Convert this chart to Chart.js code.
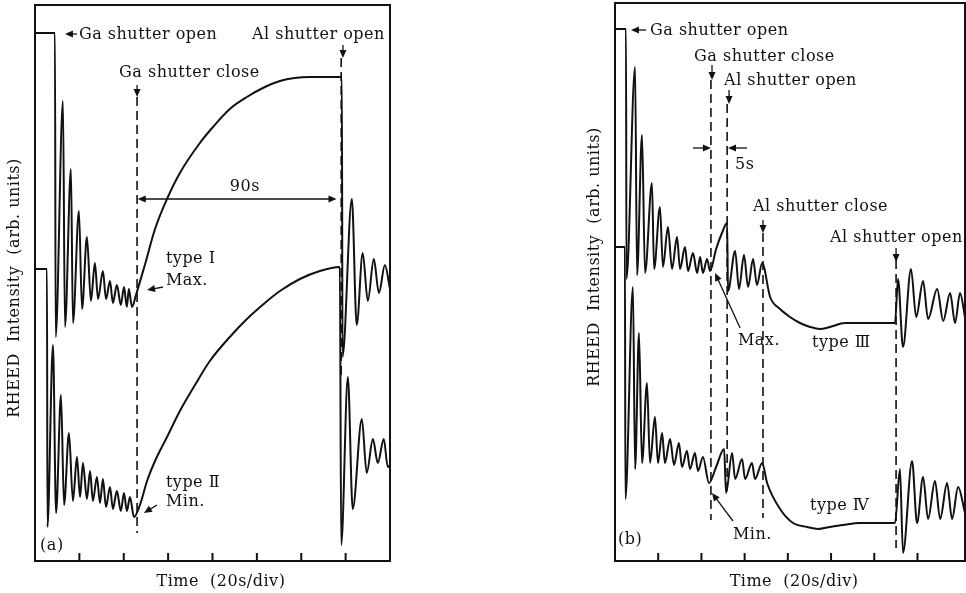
<!DOCTYPE html>
<html>
<head>
<meta charset="utf-8">
<script src="https://cdn.jsdelivr.net/npm/chart.js@4.4.1/dist/chart.umd.min.js"></script>
<style>
  html, body { margin: 0; padding: 0; background: #fff; }
  #wrap { position: relative; width: 966px; height: 593px; overflow: hidden; }
  canvas { position: absolute; top: 0; }
  #chartA { left: 0; }
  #chartB { left: 540px; }
</style>
</head>
<body>
<div id="wrap">
  <canvas id="chartA" width="420" height="593"></canvas>
  <canvas id="chartB" width="426" height="593"></canvas>
</div>
<script>
// RHEED intensity vs. time, time in s (20 s/div), intensity in arb. units

const tickTimes = [20, 40, 60, 80, 100, 120, 140];

// ---- (a) type I (upper) / type II (lower)
const aUpperT = [0, 9.0, 9.3, 12.6, 13.5, 16.2, 17.1, 19.8, 21.2, 23.4, 25.2, 27.0, 28.4, 30.6, 32.0, 33.8, 35.1, 36.9, 38.7, 40.1, 41.4, 42.3, 43.7, 45.5, 49.5, 54.1, 59.5, 65.3, 74.3, 80.2, 87.8, 95.5, 103.6, 110.4, 117.0, 124.0, 138.3, 138.6, 142.8, 145.0, 147.7, 150.0, 152.7, 155.0, 157.7, 160];
const aUpperI = [264, 264, 112, 230, 117, 196, 119, 175, 126, 162, 130, 149, 131, 145, 131, 140, 129, 138, 128, 137, 127, 136, 127, 133, 148, 166, 181, 194, 209, 217, 226, 232, 237, 240, 241.5, 242, 242, 102, 181, 118, 154, 130, 151, 134, 148, 136];
const aLowerT = [0, 5.4, 5.6, 8.1, 9.5, 11.7, 13.1, 15.3, 17.1, 18.9, 20.3, 21.6, 23.4, 24.8, 26.1, 27.9, 29.3, 30.6, 32.0, 33.8, 35.1, 36.9, 38.7, 40.1, 41.4, 42.8, 44.6, 47.3, 50.5, 54.1, 59.5, 65.3, 72.1, 78.8, 87.8, 95.5, 103.6, 110.4, 119.4, 128.4, 137.4, 138.0, 141.0, 143.2, 147.3, 149.5, 152.3, 154.5, 157.2, 159.0, 160];
const aLowerI = [146, 146, 17, 108, 24, 83, 28, 64, 30, 52, 32, 49, 31, 45, 30, 42, 29, 41, 27, 37, 26, 35, 25, 34, 25, 32, 22, 28, 40, 50, 62, 75, 88, 100, 112, 121, 129, 135, 141, 145, 147, 8, 92, 26, 71, 44, 61, 49, 61, 47, 48];
// shutter events: Ga close, Al open
const aShutterT      = [46, 138];
const aShutterTop    = [232, 251.5];
const aShutterBottom = [14, 91.5];

// ---- (b) type III (upper) / type IV (lower)
const bUpperT = [0, 5.1, 5.3, 9.3, 10.2, 12.5, 13.9, 17.1, 18.1, 20.8, 22.2, 24.5, 26.4, 28.7, 30.1, 32.4, 33.8, 36.1, 38.0, 39.4, 40.7, 42.6, 44.0, 46.8, 49.5, 51.9, 52.3, 55.6, 57.4, 59.7, 61.6, 63.9, 65.7, 68.1, 71.8, 76.4, 81.0, 85.6, 90.3, 94.9, 99.5, 106.5, 118.1, 129.6, 131.0, 133.3, 137.0, 139.4, 142.6, 144.9, 149.1, 151.9, 155.1, 157.4, 159.7, 162];
const bUpperI = [266, 266, 141, 247, 143, 213, 144, 189, 146, 177, 147, 167, 146, 162, 146, 157, 145, 154, 144, 152, 144, 151, 145, 156, 164, 169, 135, 155, 136, 153, 137, 151, 138, 149, 132, 126, 122, 119, 117, 116, 117, 119, 119, 119, 141, 107, 146, 122, 140, 121, 136, 120, 134, 119, 134, 122];
const bLowerT = [0, 4.6, 4.8, 8.3, 9.3, 11.1, 12.5, 14.8, 16.2, 18.5, 19.9, 21.8, 23.1, 25.5, 27.3, 29.6, 31.0, 33.3, 34.7, 37.0, 38.4, 40.7, 43.5, 46.8, 50.5, 51.4, 54.2, 55.6, 58.8, 60.2, 63.4, 64.8, 68.1, 70.4, 76.4, 82.4, 88.9, 94.0, 99.5, 105.6, 113.4, 122.7, 129.6, 131.9, 133.3, 137.5, 139.8, 142.6, 144.9, 148.1, 150.5, 153.7, 156.0, 158.8, 162];
const bLowerI = [157, 157, 31, 137, 46, 114, 49, 89, 49, 72, 49, 64, 49, 61, 48, 59, 47, 55, 46, 54, 45, 52, 39, 47, 56, 34, 54, 41, 51, 41, 49, 41, 49, 39, 26, 19, 17, 16, 17, 18, 19, 19, 19, 46, 4, 50, 19, 42, 21, 40, 21, 39, 21, 37, 24];
// shutter events: Ga close, Al open, Al close, Al open
const bShutterT      = [44.4, 51.9, 68.5, 130.1];
const bShutterTop    = [240.5, 228.5, 164, 150.5];
const bShutterBottom = [20.5, 33, 21.5, 6.5];

// annotations, anchored in data units [text, t, I]
const aLabels = [
  ["Ga shutter open", 19.8, 263],
  ["Al shutter open", 97.8, 263],
  ["Ga shutter close", 37.9, 244],
  ["90s", 94.6, 187, "center"],
  ["type \u2160", 59, 151],
  ["Max.", 59, 140],
  ["type \u2161", 59, 39],
  ["Min.", 59, 29.5],
  ["(a)", 2.3, 7.5]
];
const aArrows = [
  [18.9, 263.5, 13.5, 263.5],
  [138.8, 258, 138.8, 251.5],
  [46, 238, 46, 232],
  [91, 181, 46.3, 181],
  [91, 181, 135.9, 181],
  [57.7, 137, 50.5, 135.5],
  [55, 28, 49.1, 24]
];
const bLabels = [
  ["Ga shutter open", 16.2, 265],
  ["Ga shutter close", 36.6, 252],
  ["Al shutter open", 50.5, 240],
  ["5s", 55.6, 198],
  ["Al shutter close", 63.9, 177],
  ["Al shutter open", 99.5, 161.5],
  ["Max.", 56.9, 110],
  ["type \u2162", 91.2, 109],
  ["Min.", 54.6, 13],
  ["type \u2163", 90.3, 27.5],
  ["(b)", 1.4, 10.5]
];
const bArrows = [
  [14.4, 265.5, 7.4, 265.5],
  [44.9, 248, 44.9, 240.5],
  [52.8, 235.5, 52.8, 228.5],
  [36.1, 206.5, 44.4, 206.5],
  [61.1, 206.5, 52.3, 206.5],
  [68.5, 170.5, 68.5, 164],
  [130.1, 156.5, 130.1, 149.5],
  [57.9, 116.5, 46.3, 144],
  [54.6, 20, 44.9, 34]
];

const FONT = '16px "DejaVu Serif", "Liberation Serif", serif';
const INK  = "#111";

function arrow(ctx, x1, y1, x2, y2) {
  const a = Math.atan2(y2 - y1, x2 - x1);
  const len = 8, half = 3.5;
  ctx.beginPath();
  ctx.moveTo(x1, y1);
  ctx.lineTo(x2 - Math.cos(a) * len * 0.8, y2 - Math.sin(a) * len * 0.8);
  ctx.stroke();
  ctx.beginPath();
  ctx.moveTo(x2, y2);
  ctx.lineTo(x2 - Math.cos(a) * len - Math.sin(a) * half, y2 - Math.sin(a) * len + Math.cos(a) * half);
  ctx.lineTo(x2 - Math.cos(a) * len + Math.sin(a) * half, y2 - Math.sin(a) * len - Math.cos(a) * half);
  ctx.closePath();
  ctx.fill();
}

function figurePlugin(p) {
  return {
    id: "figure",
    afterDraw(chart) {
      const { ctx, chartArea: ca, scales: { x, y } } = chart;
      ctx.save();
      ctx.strokeStyle = INK;
      ctx.fillStyle = INK;

      // frame + inward ticks
      ctx.lineWidth = 2;
      ctx.strokeRect(ca.left, ca.top, ca.right - ca.left, ca.bottom - ca.top);
      ctx.beginPath();
      tickTimes.forEach(t => {
        const px = x.getPixelForValue(t);
        ctx.moveTo(px, ca.bottom);
        ctx.lineTo(px, ca.bottom - 8);
      });
      ctx.stroke();

      // arrows
      ctx.lineWidth = 1.3;
      p.arrows.forEach(([t1, i1, t2, i2]) =>
        arrow(ctx, x.getPixelForValue(t1), y.getPixelForValue(i1), x.getPixelForValue(t2), y.getPixelForValue(i2)));

      // labels
      ctx.font = FONT;
      ctx.textBaseline = "middle";
      ctx.letterSpacing = "0.5px";
      p.labels.forEach(([txt, t, i, align]) => {
        ctx.textAlign = align || "left";
        ctx.fillText(txt, x.getPixelForValue(t), y.getPixelForValue(i));
      });

      // axis titles
      ctx.textAlign = "center";
      ctx.fillText("Time  (20s/div)", x.getPixelForValue(p.xTitleT), ca.bottom + 21);
      ctx.translate(ca.left - 20, y.getPixelForValue(p.yTitleI));
      ctx.rotate(-Math.PI / 2);
      ctx.fillText("RHEED  Intensity  (arb. units)", 0, 0);
      ctx.restore();
    }
  };
}

function panel(id, p) {
  const datasets = [];
  p.shutterT.forEach((t, k) => datasets.push({
    data: [{ x: t, y: p.shutterTop[k] }, { x: t, y: p.shutterBottom[k] }],
    borderColor: INK, borderWidth: 1.6, borderDash: [9, 5]
  }));
  p.traces.forEach(([T, I]) => datasets.push({
    data: T.map((t, k) => ({ x: t, y: I[k] })),
    borderColor: INK, borderWidth: 2, cubicInterpolationMode: "monotone"
  }));

  new Chart(document.getElementById(id), {
    type: "line",
    data: { datasets },
    options: {
      responsive: false,
      animation: false,
      devicePixelRatio: 1,
      layout: { padding: p.padding },
      elements: { point: { radius: 0 } },
      plugins: { legend: { display: false }, tooltip: { enabled: false } },
      scales: {
        x: { type: "linear", min: 0, max: p.tMax, display: false },
        y: { type: "linear", min: 0, max: p.iMax, display: false }
      }
    },
    plugins: [figurePlugin(p)]
  });
}

panel("chartA", {
  traces: [[aUpperT, aUpperI], [aLowerT, aLowerI]],
  shutterT: aShutterT, shutterTop: aShutterTop, shutterBottom: aShutterBottom,
  labels: aLabels, arrows: aArrows,
  tMax: 160, iMax: 278,
  padding: { left: 35, right: 30, top: 5, bottom: 32 },
  xTitleT: 83.8, yTitleI: 136.5
});

panel("chartB", {
  traces: [[bUpperT, bUpperI], [bLowerT, bLowerI]],
  shutterT: bShutterT, shutterTop: bShutterTop, shutterBottom: bShutterBottom,
  labels: bLabels, arrows: bArrows,
  tMax: 162, iMax: 279,
  padding: { left: 75, right: 1, top: 3, bottom: 32 },
  xTitleT: 82.9, yTitleI: 152
});
</script>
</body>
</html>
